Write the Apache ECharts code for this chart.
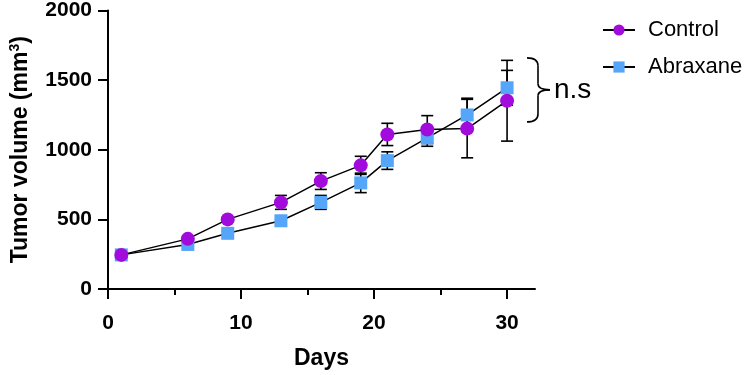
<!DOCTYPE html>
<html>
<head>
<meta charset="utf-8">
<script src="https://cdn.jsdelivr.net/npm/echarts@6/dist/echarts.min.js"></script>
<style>
  html, body { margin: 0; padding: 0; background: #fff; }
  #main { width: 748px; height: 375px; }
</style>
</head>
<body>
<div id="main"></div>
<script>
var days = [1, 6, 9, 13, 16, 19, 21, 24, 27, 30];
var controlMean = [245, 360, 500, 622, 775, 888, 1110, 1145, 1152, 1352];
var controlSem = [12, 18, 15, 50, 60, 65, 80, 100, 210, 290];
var abraxaneMean = [245, 320, 400, 490, 622, 762, 922, 1085, 1250, 1445];
var abraxaneSem = [10, 12, 15, 15, 50, 70, 63, 60, 120, 125];
var xTicks = [0, 10, 20, 30];
var xMinorTicks = [5, 15, 25];
var nsRange = [1200, 1660]; // span of the n.s bracket

var font = '"Liberation Sans", Arial, sans-serif';
var purple = '#a10cdc';
var blue = '#55a6f8';

function pairs(mean) {
    return days.map(function (d, i) { return [d, mean[i]]; });
}
function errData(mean, sem) {
    return days.map(function (d, i) { return [d, mean[i] - sem[i], mean[i] + sem[i]]; });
}
function renderErr(params, api) {
    var lo = api.coord([api.value(0), api.value(1)]);
    var hi = api.coord([api.value(0), api.value(2)]);
    var w = 6;
    var st = { stroke: '#000', lineWidth: 1.6 };
    return {
        type: 'group',
        children: [
            { type: 'line', shape: { x1: lo[0], y1: lo[1], x2: hi[0], y2: hi[1] }, style: st },
            { type: 'line', shape: { x1: hi[0] - w, y1: hi[1], x2: hi[0] + w, y2: hi[1] }, style: st },
            { type: 'line', shape: { x1: lo[0] - w, y1: lo[1], x2: lo[0] + w, y2: lo[1] }, style: st }
        ]
    };
}

var chart = echarts.init(document.getElementById('main'));
var option = {
    animation: false,
    textStyle: { fontFamily: font },
    grid: { left: 103, top: 9, right: 213, bottom: 80, containLabel: false },
    legend: {
        data: ['Control', 'Abraxane'],
        orient: 'vertical',
        left: 597,
        top: 14,
        itemWidth: 32,
        itemHeight: 14,
        itemGap: 15,
        textStyle: { fontSize: 22, color: '#000', fontFamily: font, padding: [0, 0, 0, 8] }
    },
    xAxis: [{
        type: 'value',
        min: 0,
        max: 32.1,
        name: 'Days',
        nameLocation: 'middle',
        nameGap: 58,
        nameTextStyle: { fontSize: 23, fontWeight: 'bold', color: '#000', fontFamily: font },
        axisLine: { show: true, lineStyle: { color: '#000', width: 2 } },
        axisTick: { show: true, customValues: xTicks, length: 10, lineStyle: { color: '#000', width: 2 } },
        axisLabel: { customValues: xTicks, margin: 24, fontSize: 21, fontWeight: 'bold', color: '#000', fontFamily: font },
        splitLine: { show: false }
    }, {
        type: 'value',
        min: 0,
        max: 32.1,
        position: 'bottom',
        axisLine: { show: false },
        axisTick: { show: true, customValues: xMinorTicks, length: 6, lineStyle: { color: '#000', width: 2 } },
        axisLabel: { show: false },
        splitLine: { show: false }
    }],
    yAxis: {
        type: 'value',
        min: 0,
        max: 2000,
        interval: 500,
        name: 'Tumor volume (mm{sup|3})',
        nameLocation: 'middle',
        nameGap: 75,
        nameTextStyle: {
            fontSize: 23, fontWeight: 'bold', color: '#000', fontFamily: font,
            rich: { sup: { fontSize: 14, fontWeight: 'bold', color: '#000', verticalAlign: 'top', padding: [0, 0, 11, 0] } }
        },
        axisLine: { show: true, lineStyle: { color: '#000', width: 2 } },
        axisTick: { show: true, length: 10, lineStyle: { color: '#000', width: 2 } },
        axisLabel: {
            margin: 16, fontSize: 21, fontWeight: 'bold', color: '#000', fontFamily: font,
            formatter: function (v) { return String(v); }
        },
        splitLine: { show: false }
    },
    series: [
        {
            name: 'Abraxane err',
            type: 'custom',
            renderItem: renderErr,
            data: errData(abraxaneMean, abraxaneSem),
            z: 1,
            silent: true
        },
        {
            name: 'Control err',
            type: 'custom',
            renderItem: renderErr,
            data: errData(controlMean, controlSem),
            z: 1,
            silent: true
        },
        {
            name: 'Abraxane',
            type: 'line',
            data: pairs(abraxaneMean),
            symbol: 'rect',
            symbolSize: 13,
            lineStyle: { color: '#000', width: 1.5 },
            itemStyle: { color: blue, borderWidth: 0 },
            z: 3
        },
        {
            name: 'Control',
            type: 'line',
            data: pairs(controlMean),
            symbol: 'circle',
            symbolSize: 14,
            lineStyle: { color: '#000', width: 1.5 },
            itemStyle: { color: purple, borderWidth: 0 },
            z: 4
        }
    ]
};
chart.setOption(option);

// n.s bracket next to the last points
var pTop = chart.convertToPixel({ xAxisIndex: 0, yAxisIndex: 0 }, [32.1, nsRange[1]]);
var pBot = chart.convertToPixel({ xAxisIndex: 0, yAxisIndex: 0 }, [32.1, nsRange[0]]);
var x0 = pTop[0] - 8, xm = pTop[0] + 3, xt = pTop[0] + 15;
var y0 = pTop[1], y1 = pBot[1], ym = (y0 + y1) / 2;
var st = { fill: null, stroke: '#000', lineWidth: 1.6 };
function curve(ax, ay, cx, cy, bx, by) {
    return { type: 'bezierCurve', shape: { x1: ax, y1: ay, cpx1: cx, cpy1: cy, x2: bx, y2: by }, style: st };
}
function seg(ax, ay, bx, by) {
    return { type: 'line', shape: { x1: ax, y1: ay, x2: bx, y2: by }, style: st };
}
chart.setOption({
    graphic: [
        {
            type: 'group',
            children: [
                curve(x0, y0, xm, y0, xm, y0 + 8),
                seg(xm, y0 + 8, xm, ym - 6),
                curve(xm, ym - 6, xm, ym, xt, ym),
                curve(xt, ym, xm, ym, xm, ym + 6),
                seg(xm, ym + 6, xm, y1 - 8),
                curve(xm, y1 - 8, xm, y1, x0, y1)
            ]
        },
        { type: 'text', x: xt + 4, y: ym, style: { text: 'n.s', fontSize: 28, fill: '#000', fontFamily: font, verticalAlign: 'middle' } }
    ]
});
</script>
</body>
</html>
